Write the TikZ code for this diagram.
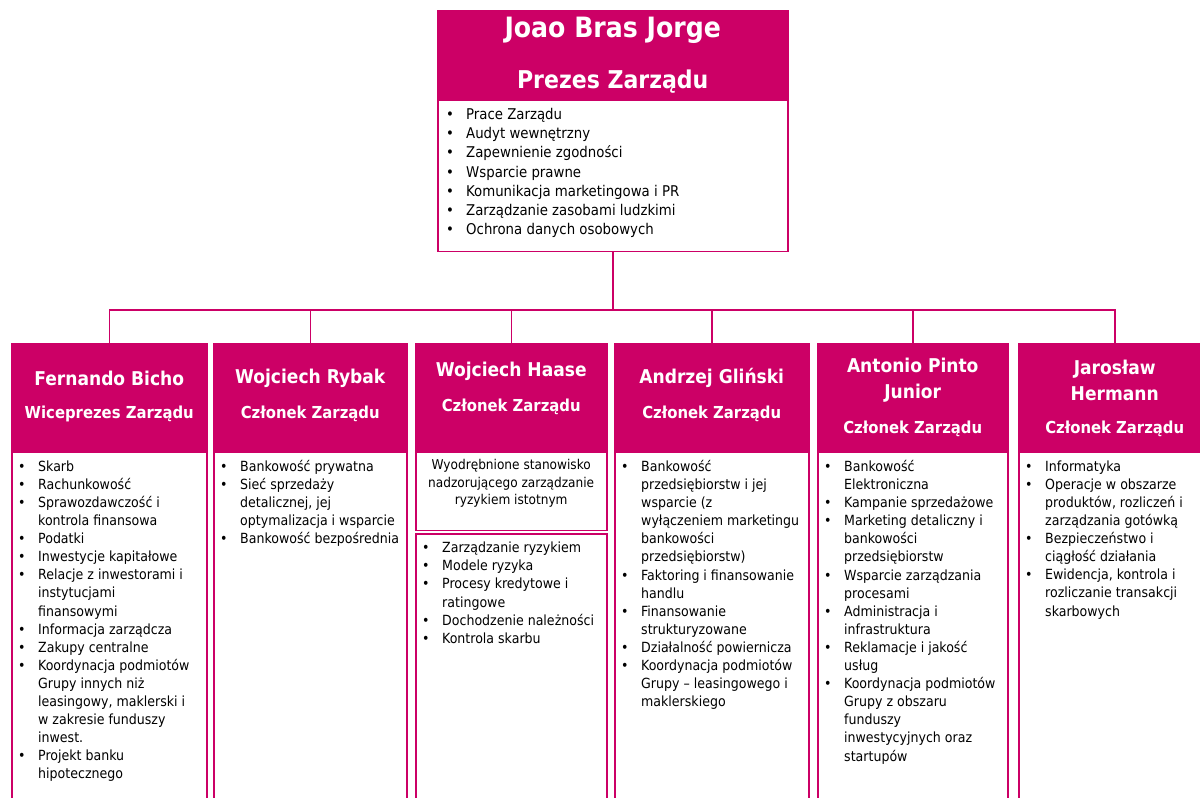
\documentclass[tikz,border=0pt]{standalone}
\usepackage{fontspec}
\setmainfont{DejaVu Sans Condensed}
\usetikzlibrary{positioning}
\definecolor{bankpink}{RGB}{204,0,102}
\newcommand{\itm}{\rule{0pt}{11pt}\makebox[20pt][l]{\textbullet}}
\newcommand{\cnt}{\hspace*{20pt}}

\begin{document}
\begin{tikzpicture}[x=1pt,y=-1pt,
  headbox/.style={draw=bankpink,fill=bankpink,line width=1.5pt,inner sep=0pt,
    anchor=north west,minimum width=#1,minimum height=107pt},
  bodybox/.style={draw=bankpink,fill=white,line width=1.5pt,inner sep=0pt,
    minimum width=#1},
  bigwho/.style={text=white,font=\bfseries\fontsize{28pt}{32pt}\selectfont},
  bigpost/.style={text=white,font=\bfseries\fontsize{24.5pt}{28pt}\selectfont},
  who/.style={text=white,align=center,font=\bfseries\fontsize{19pt}{26pt}\selectfont},
  post/.style={text=white,font=\bfseries\fontsize{16.5pt}{18pt}\selectfont},
  duties/.style={align=left,inner sep=0pt,font=\fontsize{14pt}{18.1pt}\selectfont},
  link/.style={draw=bankpink,line width=1.5pt},
  ]
  \useasboundingbox (0,0) rectangle (1200,798);

  % Prezes
  \node[headbox=350pt,minimum height=88pt] (prezes) at (437,10) {};
  \node[bodybox=350pt,minimum height=151pt,below=0pt of prezes] (prezesBody) {};
  \node[bigwho] (prezesName) at ([yshift=-20pt]prezes.north) {Joao Bras Jorge};
  \node[bigpost] (prezesRole) at ([yshift=-72pt]prezes.north) {Prezes Zarządu};
  \node[duties,font=\fontsize{14.8pt}{19.2pt}\selectfont,
    below right=8.5pt and 9pt of prezesBody.north west] (prezesDuties) {%
    \itm Prace Zarządu\\
    \itm Audyt wewnętrzny\\
    \itm Zapewnienie zgodności\\
    \itm Wsparcie prawne\\
    \itm Komunikacja marketingowa i PR\\
    \itm Zarządzanie zasobami ludzkimi\\
    \itm Ochrona danych osobowych};

  % Czlonkowie zarzadu
  \node[headbox=195pt] (headA) at (11,343) {};
  \node[headbox=193pt] (headB) at (213,343) {};
  \node[headbox=191pt] (headC) at (415,343) {};
  \node[headbox=194pt] (headD) at (614,343) {};
  \node[headbox=190pt] (headE) at (817,343) {};
  \node[headbox=192pt] (headF) at (1018,343) {};

  \node[bodybox=195pt,minimum height=360pt,below=0pt of headA] (bodyA) {};
  \node[bodybox=193pt,minimum height=360pt,below=0pt of headB] (bodyB) {};
  \node[bodybox=191pt,minimum height=78pt,below=0pt of headC] (noteC) {};
  \node[bodybox=191pt,minimum height=280pt,below=2pt of noteC] (bodyC) {};
  \node[bodybox=194pt,minimum height=360pt,below=0pt of headD] (bodyD) {};
  \node[bodybox=190pt,minimum height=360pt,below=0pt of headE] (bodyE) {};
  \node[bodybox=192pt,minimum height=360pt,below=0pt of headF] (bodyF) {};

  \node[who] (nameA) at ([yshift=-35pt]headA.north) {Fernando Bicho};
  \node[post] (roleA) at ([yshift=-71pt]headA.north) {Wiceprezes Zarządu};
  \node[who] (nameB) at ([yshift=-35pt]headB.north) {Wojciech Rybak};
  \node[post] (roleB) at ([yshift=-71pt]headB.north) {Członek Zarządu};
  \node[who] (nameC) at ([yshift=-28pt]headC.north) {Wojciech Haase};
  \node[post] (roleC) at ([yshift=-64pt]headC.north) {Członek Zarządu};
  \node[who] (nameD) at ([yshift=-35pt]headD.north) {Andrzej Gliński};
  \node[post] (roleD) at ([yshift=-71pt]headD.north) {Członek Zarządu};
  \node[who] (nameE) at ([yshift=-37pt]headE.north) {Antonio Pinto\\Junior};
  \node[post] (roleE) at ([yshift=-86pt]headE.north) {Członek Zarządu};
  \node[who] (nameF) at ([yshift=-37pt]headF.north) {Jarosław\\Hermann};
  \node[post] (roleF) at ([yshift=-86pt]headF.north) {Członek Zarządu};

  \node[duties,align=center,font=\fontsize{13.5pt}{17.5pt}\selectfont]
    (noteText) at ([yshift=-32pt]noteC.north)
    {Wyodrębnione stanowisko\\nadzorującego zarządzanie\\ryzykiem istotnym};

  \node[duties,below right=8.5pt and 7pt of bodyA.north west] (dutiesA) {%
    \itm Skarb\\
    \itm Rachunkowość\\
    \itm Sprawozdawczość i\\
    \cnt kontrola finansowa\\
    \itm Podatki\\
    \itm Inwestycje kapitałowe\\
    \itm Relacje z inwestorami i\\
    \cnt instytucjami\\
    \cnt finansowymi\\
    \itm Informacja zarządcza\\
    \itm Zakupy centralne\\
    \itm Koordynacja podmiotów\\
    \cnt Grupy innych niż\\
    \cnt leasingowy, maklerski i\\
    \cnt w zakresie funduszy\\
    \cnt inwest.\\
    \itm Projekt banku\\
    \cnt hipotecznego};
  \node[duties,below right=8.5pt and 7pt of bodyB.north west] (dutiesB) {%
    \itm Bankowość prywatna\\
    \itm Sieć sprzedaży\\
    \cnt detalicznej, jej\\
    \cnt optymalizacja i wsparcie\\
    \itm Bankowość bezpośrednia};
  \node[duties,below right=8.5pt and 7pt of bodyC.north west] (dutiesC) {%
    \itm Zarządzanie ryzykiem\\
    \itm Modele ryzyka\\
    \itm Procesy kredytowe i\\
    \cnt ratingowe\\
    \itm Dochodzenie należności\\
    \itm Kontrola skarbu};
  \node[duties,below right=8.5pt and 7pt of bodyD.north west] (dutiesD) {%
    \itm Bankowość\\
    \cnt przedsiębiorstw i jej\\
    \cnt wsparcie (z\\
    \cnt wyłączeniem marketingu\\
    \cnt bankowości\\
    \cnt przedsiębiorstw)\\
    \itm Faktoring i finansowanie\\
    \cnt handlu\\
    \itm Finansowanie\\
    \cnt strukturyzowane\\
    \itm Działalność powiernicza\\
    \itm Koordynacja podmiotów\\
    \cnt Grupy – leasingowego i\\
    \cnt maklerskiego};
  \node[duties,below right=8.5pt and 7pt of bodyE.north west] (dutiesE) {%
    \itm Bankowość\\
    \cnt Elektroniczna\\
    \itm Kampanie sprzedażowe\\
    \itm Marketing detaliczny i\\
    \cnt bankowości\\
    \cnt przedsiębiorstw\\
    \itm Wsparcie zarządzania\\
    \cnt procesami\\
    \itm Administracja i\\
    \cnt infrastruktura\\
    \itm Reklamacje i jakość\\
    \cnt usług\\
    \itm Koordynacja podmiotów\\
    \cnt Grupy z obszaru\\
    \cnt funduszy\\
    \cnt inwestycyjnych oraz\\
    \cnt startupów};
  \node[duties,below right=8.5pt and 7pt of bodyF.north west] (dutiesF) {%
    \itm Informatyka\\
    \itm Operacje w obszarze\\
    \cnt produktów, rozliczeń i\\
    \cnt zarządzania gotówką\\
    \itm Bezpieczeństwo i\\
    \cnt ciągłość działania\\
    \itm Ewidencja, kontrola i\\
    \cnt rozliczanie transakcji\\
    \cnt skarbowych};

  % linie
  \coordinate[below=58pt of prezesBody] (bus);
  \draw[link] (prezesBody.south) -- (bus);
  \foreach \m in {headA,headB,headC,headD,headE,headF}
    \draw[link] (bus) -| (\m.north);
\end{tikzpicture}
\end{document}
